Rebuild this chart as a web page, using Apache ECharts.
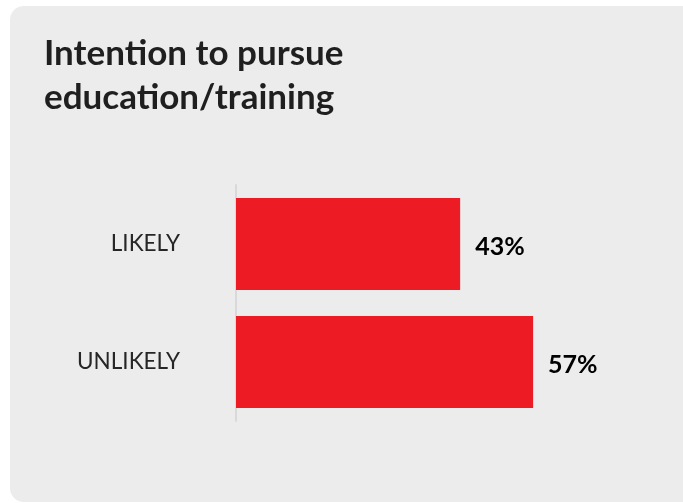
<!DOCTYPE html>
<html>
<head>
<meta charset="utf-8">
<script src="https://cdn.jsdelivr.net/npm/echarts@6/dist/echarts.min.js"></script>
<style>
  html, body { margin: 0; padding: 0; background: #ffffff; width: 683px; height: 503px; overflow: hidden; }
  #chart { position: absolute; left: 10px; top: 6px; width: 673px; height: 496px; background: #ececec; border-radius: 14px 0 0 14px; overflow: hidden; }
</style>
</head>
<body>
<div id="chart"></div>
<script>
const titleText = "Intention to pursue\neducation/training";
const categories = ["LIKELY", "UNLIKELY"];
const values = [43, 57];
const valueSuffix = "%";

const chart = echarts.init(document.getElementById('chart'), null, { renderer: 'canvas' });
chart.setOption({
  backgroundColor: 'transparent',
  animation: false,
  title: {
    text: titleText,
    left: 29,
    top: 21,
    textStyle: {
      fontFamily: 'Lato',
      fontWeight: 'bold',
      fontSize: 35,
      lineHeight: 44,
      color: '#1f1f1f'
    }
  },
  grid: { left: 226, top: 179, width: 417, height: 236 },
  xAxis: {
    type: 'value',
    min: 0,
    max: 80,
    show: false
  },
  yAxis: {
    type: 'category',
    data: categories,
    inverse: true,
    axisLine: { show: true, lineStyle: { color: '#d9d9d9', width: 2 } },
    axisTick: { show: false },
    axisLabel: {
      margin: 56,
      fontFamily: 'Lato',
      fontSize: 22.5,
      color: '#262626'
    }
  },
  series: [{
    type: 'bar',
    data: values,
    barWidth: 92,
    itemStyle: { color: '#ed1c24' },
    label: {
      show: true,
      position: 'right',
      distance: 15,
      offset: [0, 3],
      formatter: p => p.value + valueSuffix,
      fontFamily: 'Lato',
      fontWeight: 'bold',
      fontSize: 25,
      color: '#000000'
    }
  }]
});
</script>
</body>
</html>
